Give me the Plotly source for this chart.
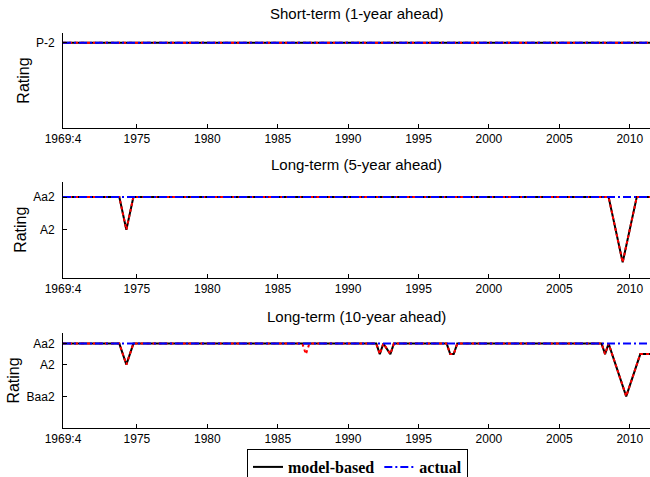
import plotly.graph_objects as go

# ---------------- data ----------------
# dates as "YYYY:Q"
st_dates = ["1969:4", "2011:4"]
st_model = [0, 0]            # P-2 throughout
st_alt = [0, 0]
st_actual = [0, 0]

lt5_dates = ["1969:4", "1973:4", "1974:2", "1974:4", "2008:3", "2009:3", "2010:3", "2011:4"]
lt5_model = [0, 0, 2, 0, 0, 4, 0, 0]
lt5_alt = [0, 0, 2, 0, 0, 4, 0, 0]
lt5_actual_dates = ["1969:4", "2011:4"]
lt5_actual = [0, 0]

lt10_dates = ["1969:4", "1973:4", "1974:2", "1974:4", "1992:1", "1992:2", "1992:3", "1993:1", "1993:2",
              "1997:1", "1997:2", "1997:3", "1997:4", "2008:1", "2008:2", "2008:3", "2009:4", "2010:4", "2011:4"]
lt10_model = [0, 0, 2, 0, 0, 1, 0, 1, 0, 0, 1, 1, 0, 0, 1, 0, 5, 1, 1]
lt10_alt_dates = ["1969:4", "1973:4", "1974:2", "1974:4", "1986:4", "1987:1", "1987:2", "1992:1", "1992:2", "1992:3",
                  "1993:1", "1993:2", "1997:1", "1997:2", "1997:3", "1997:4", "2008:1", "2008:2", "2008:3",
                  "2009:4", "2010:4", "2011:4"]
lt10_alt = [0, 0, 2, 0, 0, 1, 0, 0, 1, 0, 1, 0, 0, 1, 1, 0, 0, 1, 0, 5, 1, 1]
lt10_actual_dates = ["1969:4", "2011:4"]
lt10_actual = [0, 0]

x_tick_vals = ["1969:4", "1975:1", "1980:1", "1985:1", "1990:1", "1995:1", "2000:1", "2005:1", "2010:1"]
x_tick_text = ["1969:4", "1975", "1980", "1985", "1990", "1995", "2000", "2005", "2010"]

st_tick_vals = [0]
st_tick_text = ["P-2"]
lt5_tick_vals = [0, 2]
lt5_tick_text = ["Aa2", "A2"]
lt10_tick_vals = [0, 2, 5]
lt10_tick_text = ["Aa2", "A2", "Baa2"]

titles = ["Short-term (1-year ahead)", "Long-term (5-year ahead)", "Long-term (10-year ahead)"]


def q2num(s):
    y, q = s.split(":")
    return int(y) + (int(q) - 1) / 4.0


W, H = 650, 477
SANS = "Liberation Sans"

fig = go.Figure()

panels = [
    (st_dates, st_model, st_dates, st_alt, st_dates, st_actual, st_tick_vals, st_tick_text, [7, -0.8], (33, 128)),
    (lt5_dates, lt5_model, lt5_dates, lt5_alt, lt5_actual_dates, lt5_actual, lt5_tick_vals, lt5_tick_text, [4.94, -0.94], (181.7, 277.7)),
    (lt10_dates, lt10_model, lt10_alt_dates, lt10_alt, lt10_actual_dates, lt10_actual, lt10_tick_vals, lt10_tick_text, [8, -1], (333, 428)),
]

title_y = [13, 165, 316]

left_px = 63
plot_w = W - left_px
px_per_year = 14.08
x_end = 1969.75 + plot_w / px_per_year

for i, (md, mv, ad, av, bd, bv, tv, tt, yr, (top, bot)) in enumerate(panels):
    n = i + 1
    xa = "x" if n == 1 else f"x{n}"
    ya = "y" if n == 1 else f"y{n}"
    fig.add_trace(go.Scatter(x=[q2num(d) for d in md], y=mv, mode="lines", xaxis=xa, yaxis=ya,
                             line=dict(color="black", width=2), name="model-based",
                             showlegend=(n == 1), legendrank=1))
    fig.add_trace(go.Scatter(x=[q2num(d) for d in ad], y=av, mode="lines", xaxis=xa, yaxis=ya,
                             line=dict(color="red", width=2, dash="dot"), name="alt",
                             showlegend=False))
    fig.add_trace(go.Scatter(x=[q2num(d) for d in bd], y=bv, mode="lines", xaxis=xa, yaxis=ya,
                             line=dict(color="blue", width=2, dash="8px,3px,2px,3px"), name="actual",
                             showlegend=(n == 1), legendrank=2))
    xkey = "xaxis" if n == 1 else f"xaxis{n}"
    ykey = "yaxis" if n == 1 else f"yaxis{n}"
    fig.layout[xkey] = dict(
        domain=[0, 1], anchor=ya, range=[1969.75, x_end], automargin=False,
        tickvals=[q2num(v) for v in x_tick_vals], ticktext=x_tick_text,
        ticks="inside", ticklen=4, tickcolor="black", showline=True, linecolor="black", linewidth=1,
        showgrid=False, zeroline=False, tickfont=dict(family=SANS, size=12, color="black"),
        ticklabelstandoff=0,
    )
    fig.layout[ykey] = dict(
        domain=[1 - bot / H, 1 - top / H], anchor=xa, range=yr, automargin=False,
        tickvals=tv, ticktext=tt,
        ticks="inside", ticklen=4, tickcolor="black", showline=True, linecolor="black", linewidth=1,
        showgrid=False, zeroline=False, tickfont=dict(family=SANS, size=12, color="black"),
        title=dict(text="Rating", font=dict(family=SANS, size=16, color="black"), standoff=2),
        ticklabelstandoff=5,
    )
    fig.add_annotation(text=titles[i], xref="paper", yref="paper", x=0.5, y=1 - title_y[i] / H,
                       xanchor="center", yanchor="middle", showarrow=False,
                       font=dict(family=SANS, size=15, color="black"))

fig.update_layout(
    width=W, height=H,
    margin=dict(l=left_px, r=0, t=0, b=0, autoexpand=False),
    paper_bgcolor="white", plot_bgcolor="white",
    showlegend=True,
    legend=dict(orientation="h", x=(247 - 63) / plot_w, xanchor="left", y=1 - 449 / H, yanchor="top",
                bordercolor="black", borderwidth=1, bgcolor="white",
                font=dict(family="Liberation Serif", size=16, color="black", weight="bold"),
                itemwidth=30, tracegroupgap=0),
)

fig.write_html("out.html", config={"displayModeBar": False},
               post_script="document.body.style.margin='0px';document.body.style.overflow='hidden';")
